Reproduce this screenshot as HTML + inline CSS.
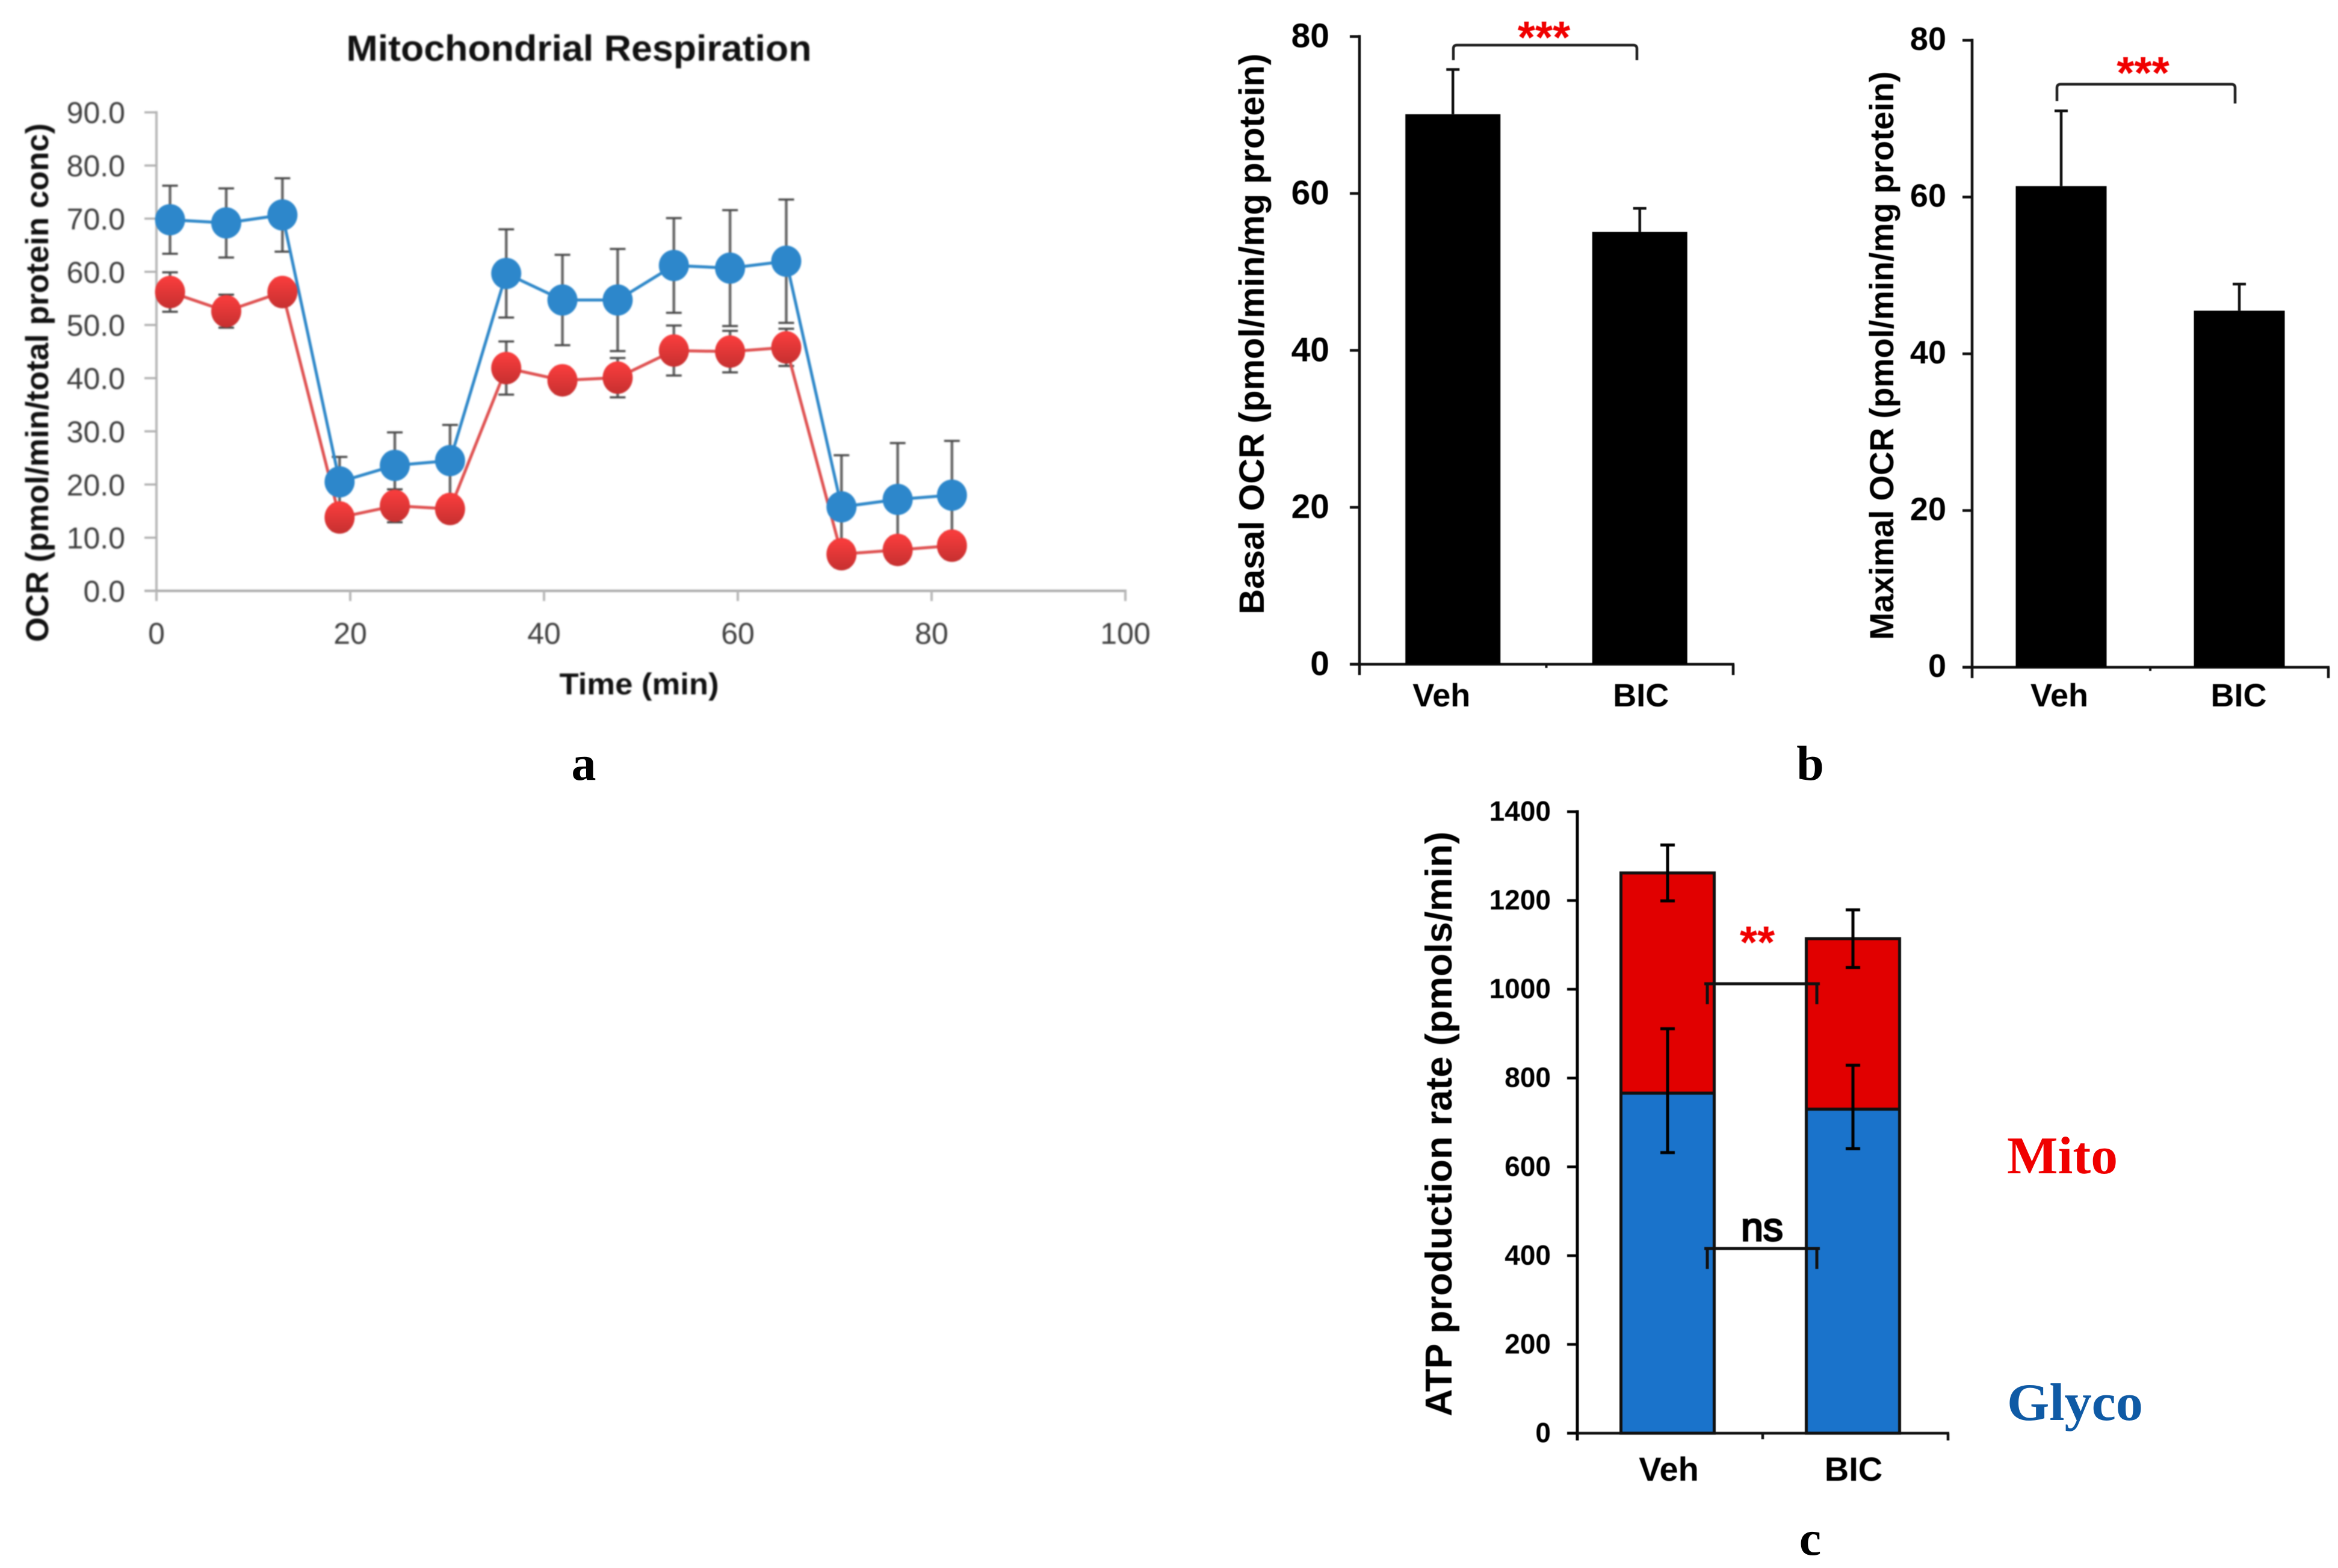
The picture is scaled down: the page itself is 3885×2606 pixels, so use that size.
<!DOCTYPE html>
<html lang="en">
<head>
<meta charset="utf-8">
<title>Mitochondrial respiration, OCR and ATP production charts</title>
<style>
html,body{margin:0;padding:0;background:#fff;}
svg{display:block;}
text{font-family:"Liberation Sans",sans-serif;}
.serif{font-family:"Liberation Serif",serif;font-weight:bold;}
.a-tick{font-size:50px;fill:#3f3f3f;}
.b{font-weight:bold;fill:#000;}
</style>
</head>
<body>
<svg id="fig" xmlns="http://www.w3.org/2000/svg" width="3885" height="2606" viewBox="0 0 3885 2606">
  <defs>
    <linearGradient id="redGrad" x1="0" y1="0" x2="0" y2="1">
      <stop offset="0.1" stop-color="#f63c3c"/>
      <stop offset="1" stop-color="#c63030"/>
    </linearGradient>
  </defs>
  <rect x="0" y="0" width="3885" height="2606" fill="#fff"/>

  <g id="panelA" style="filter:blur(1.2px)">
    <text x="962" y="101" text-anchor="middle" font-size="60" font-weight="bold" fill="#111" textLength="773" lengthAdjust="spacingAndGlyphs">Mitochondrial Respiration</text>
    <text transform="translate(80 636) rotate(-90)" text-anchor="middle" font-size="53" font-weight="bold" fill="#111" textLength="862" lengthAdjust="spacingAndGlyphs">OCR (pmol/min/total protein conc)</text>
    <text x="1062" y="1154" text-anchor="middle" font-size="50" font-weight="bold" fill="#111" textLength="265" lengthAdjust="spacingAndGlyphs">Time (min)</text>
  </g>
  <text class="serif" x="970" y="1296" text-anchor="middle" font-size="82">a</text>

  <g id="panelB1" style="filter:blur(.6px)">
    <text class="b" transform="translate(2100 555) rotate(-90)" text-anchor="middle" font-size="58" textLength="932" lengthAdjust="spacingAndGlyphs">Basal OCR (pmol/min/mg protein)</text>
  </g>
  <g id="panelB2" style="filter:blur(.6px)">
    <text class="b" transform="translate(3146 591) rotate(-90)" text-anchor="middle" font-size="56" textLength="945" lengthAdjust="spacingAndGlyphs">Maximal OCR (pmol/min/mg protein)</text>
  </g>
  <text class="serif" x="3008" y="1296" text-anchor="middle" font-size="82">b</text>

  <g id="panelC" style="filter:blur(.5px)">
    <text class="b" transform="translate(2412 1868) rotate(-90)" text-anchor="middle" font-size="62" textLength="972" lengthAdjust="spacingAndGlyphs">ATP production rate (pmols/min)</text>
  </g>
  <text class="serif" x="3335" y="1950" font-size="88" fill="#f00000" textLength="184" lengthAdjust="spacingAndGlyphs">Mito</text>
  <text class="serif" x="3335" y="2360" font-size="88" fill="#0f5aa5" textLength="226" lengthAdjust="spacingAndGlyphs">Glyco</text>
  <text class="serif" x="3008" y="2584" text-anchor="middle" font-size="82">c</text>
</svg>

<script>
// ---- Panel a data ----
const timeMinutes = [1.4, 7.2, 13.0, 18.9, 24.6, 30.3, 36.1, 41.9, 47.6, 53.4, 59.2, 65.0, 70.7, 76.5, 82.1];
const blueOcr = [69.8, 69.2, 70.7, 20.5, 23.6, 24.5, 59.7, 54.7, 54.7, 61.2, 60.7, 62.0, 15.8, 17.2, 18.0];
const blueErr = [6.4, 6.5, 6.9, 4.7, 6.2, 6.7, 8.3, 8.5, 9.6, 8.9, 10.9, 11.6, 9.7, 10.6, 10.2];
const redOcr = [56.2, 52.6, 56.2, 13.8, 16.0, 15.4, 41.9, 39.6, 40.1, 45.2, 45.0, 45.8, 6.9, 7.7, 8.5];
const redErr = [3.7, 3.1, 2.5, 2.5, 3.1, 2.5, 5.0, 2.5, 3.7, 4.7, 3.9, 3.5, 2.5, 2.5, 2.5];
const aYTicks = [0, 10, 20, 30, 40, 50, 60, 70, 80, 90];
const aXTicks = [0, 20, 40, 60, 80, 100];

// ---- Panel b data ----
const barCategories = ['Veh', 'BIC'];
const basalValues = [70.1, 55.1];
const basalErr = [5.7, 3.0];
const maximalValues = [61.4, 45.5];
const maximalErr = [9.6, 3.4];
const bYTicks = [0, 20, 40, 60, 80];

// ---- Panel c data ----
const glycoValues = [766, 730];
const glycoErrUp = [145, 99];
const glycoErrDown = [134, 89];
const totalValues = [1262, 1114];
const totalErrUp = [63, 65];
const totalErrDown = [63, 65];
const cYTicks = [0, 200, 400, 600, 800, 1000, 1200, 1400];

const NS = 'http://www.w3.org/2000/svg';
function mk(parent, tag, attrs, txt) {
  const n = document.createElementNS(NS, tag);
  for (const k in attrs) n.setAttribute(k, attrs[k]);
  if (txt !== undefined) n.textContent = txt;
  parent.appendChild(n);
  return n;
}
function ln(parent, x1, y1, x2, y2, stroke, w) {
  return mk(parent, 'line', {x1: x1, y1: y1, x2: x2, y2: y2, stroke: stroke, 'stroke-width': w});
}

// ================= Panel a =================
const ax = v => 260 + (v / 100) * 1610;
const ay = v => 982 - (v / 90) * 795.3;
const pa = document.getElementById('panelA');

const aAxes = mk(pa, 'g', {});


const aYLine = ln(aAxes, ax(0), ay(90) - 2, ax(0), 999, '#b8b8b8', 4);


const aXLine = ln(aAxes, 240, ay(0), ax(100) + 2, ay(0), '#ababab', 4);


aYTicks.forEach(v => {
  const t = ln(aAxes, 240, ay(v), ax(0), ay(v), '#b0b0b0', 3.5);
  
  
  const l = mk(aAxes, 'text', {x: 208, y: ay(v) + 18, 'text-anchor': 'end', class: 'a-tick'}, v.toFixed(1));
  
  
});
aXTicks.forEach(v => {
  const t = ln(aAxes, ax(v), ay(0), ax(v), 999, '#b8b8b8', 4);
  
  
  const l = mk(aAxes, 'text', {x: ax(v), y: 1070, 'text-anchor': 'middle', class: 'a-tick'}, String(v));
  
  
});

function drawErrs(values, errs, seriesName) {
  const g = mk(pa, 'g', {});
  
  
  values.forEach((v, i) => {
    const x = ax(timeMinutes[i]);
    const hi = ay(v + errs[i]);
    const lo = ay(v - errs[i]);
    const b = mk(g, 'g', {});
    
    
    ln(b, x, hi, x, lo, '#666', 4.5);
    ln(b, x - 13, hi, x + 13, hi, '#4a4a4a', 3.5);
    ln(b, x - 13, lo, x + 13, lo, '#4a4a4a', 3.5);
  });
}
function drawLine(values, color, seriesName) {
  const pts = values.map((v, i) => ax(timeMinutes[i]).toFixed(1) + ',' + ay(v).toFixed(1)).join(' ');
  const p = mk(pa, 'polyline', {points: pts, fill: 'none', stroke: color, 'stroke-width': 5});
  
  
}
function drawDots(values, fill, ry, seriesName) {
  const g = mk(pa, 'g', {});
  
  
  values.forEach((v, i) => {
    const c = mk(g, 'ellipse', {cx: ax(timeMinutes[i]), cy: ay(v), rx: 25, ry: ry, fill: fill});
    
    
  });
}
drawErrs(blueOcr, blueErr, 'vehicle');
drawErrs(redOcr, redErr, 'bic');
drawLine(blueOcr, '#2f88c9', 'vehicle');
drawLine(redOcr, '#df5252', 'bic');
drawDots(blueOcr, '#2d87cb', 26, 'vehicle');
drawDots(redOcr, 'url(#redGrad)', 27, 'bic');

// ================= Panel b =================
function barPanel(root, cfg, values, errs) {
  const y = v => cfg.y0 - (v / 80) * (cfg.y0 - cfg.y80);
  const x = i => cfg.x0 + cfg.w * (i + 0.5) / barCategories.length;
  const g = mk(root, 'g', {});
  
  
  const yl = ln(g, cfg.x0, cfg.y80 - 2.5, cfg.x0, cfg.y0 + 18, '#111', 4.5);
  
  
  const xl = ln(g, cfg.x0 - 16, cfg.y0, cfg.x0 + cfg.w + 2, cfg.y0, '#111', 4.5);
  
  
  const xe = ln(g, cfg.x0 + cfg.w, cfg.y0, cfg.x0 + cfg.w, cfg.y0 + 18, '#111', 4.5);
  
  
  const xm = ln(g, cfg.x0 + cfg.w / 2, cfg.y0, cfg.x0 + cfg.w / 2, cfg.y0 + 6, '#111', 4);
  
  
  bYTicks.forEach(v => {
    const t = ln(g, cfg.x0 - 16, y(v), cfg.x0, y(v), '#111', 4.5);
    
    
    const l = mk(g, 'text', {x: cfg.labelRight, y: y(v) + cfg.labelDy, 'text-anchor': 'end', class: 'b', 'font-size': cfg.labelSize}, String(v));
    
    
  });
  values.forEach((v, i) => {
    const r = mk(root, 'rect', {x: x(i) - cfg.bw / 2, y: y(v), width: cfg.bw, height: cfg.y0 - y(v), fill: '#000'});
    
    
    const e = mk(root, 'g', {});
    
    
    ln(e, x(i), y(v), x(i), y(v + errs[i]), '#111', 4.5);
    ln(e, x(i) - 11, y(v + errs[i]), x(i) + 11, y(v + errs[i]), '#111', 4.5);
    const c = mk(root, 'text', {x: x(i) + cfg.catDx[i], y: cfg.y0 + cfg.catDy, 'text-anchor': 'middle', class: 'b', 'font-size': 54}, barCategories[i]);
    
    
  });
  const br = mk(root, 'path', {
    d: 'M' + cfg.br[0] + ' ' + cfg.br[3] + ' V' + (cfg.br[2] + 6) + ' Q' + cfg.br[0] + ' ' + cfg.br[2] + ' ' + (cfg.br[0] + 6) + ' ' + cfg.br[2] +
       ' H' + (cfg.br[1] - 6) + ' Q' + cfg.br[1] + ' ' + cfg.br[2] + ' ' + cfg.br[1] + ' ' + (cfg.br[2] + 6) + ' V' + cfg.br[4],
    fill: 'none', stroke: '#222', 'stroke-width': 4.5
  });
  
  
  const st = mk(root, 'text', {x: (cfg.br[0] + cfg.br[1]) / 2 + cfg.starDx, y: cfg.starY, 'text-anchor': 'middle', 'font-size': 75, 'font-weight': 'bold', fill: '#f00000'}, '***');
  
  
}
barPanel(document.getElementById('panelB1'),
  {x0: 2259, w: 621, y0: 1104, y80: 60.7, bw: 158, labelRight: 2209, labelDy: 18, labelSize: 57, catDx: [-19, 2], catDy: 70, br: [2415, 2720, 75, 100, 100], starDx: -2, starY: 88},
  basalValues, basalErr);
barPanel(document.getElementById('panelB2'),
  {x0: 3277, w: 592, y0: 1109, y80: 67, bw: 151, labelRight: 3234, labelDy: 16, labelSize: 54, catDx: [-3, -1], catDy: 65, br: [3418, 3714, 140, 168, 172], starDx: -5, starY: 147},
  maximalValues, maximalErr);

// ================= Panel c =================
const pc = document.getElementById('panelC');
const cx = i => 2617 + 616 * (i + 0.5) / barCategories.length;
const cy = v => 2382 - (v / 1400) * 1033;
const cAxes = mk(pc, 'g', {});


const cYLine = ln(cAxes, 2621, cy(1400) - 2.5, 2621, 2394, '#000', 5);


const cXLine = ln(cAxes, 2604, 2382, 3239, 2382, '#111', 4.5);


const cXEnd = ln(cAxes, 3237, 2382, 3237, 2394, '#111', 4.5);


const cXMid = ln(cAxes, 2929, 2382, 2929, 2392, '#111', 4.5);


cYTicks.forEach(v => {
  const t = ln(cAxes, 2604, cy(v), 2621, cy(v), '#000', 4.5);
  
  
  const l = mk(cAxes, 'text', {x: 2577, y: cy(v) + 15, 'text-anchor': 'end', class: 'b', 'font-size': 46}, String(v));
  
  
});
barCategories.forEach((name, i) => {
  const key = name.toLowerCase();
  const bw = 155;
  const blue = mk(pc, 'rect', {x: cx(i) - bw / 2, y: cy(glycoValues[i]), width: bw, height: 2382 - cy(glycoValues[i]), fill: '#1a73cb', stroke: '#111', 'stroke-width': 5});
  
  
  const red = mk(pc, 'rect', {x: cx(i) - bw / 2, y: cy(totalValues[i]), width: bw, height: cy(glycoValues[i]) - cy(totalValues[i]), fill: '#e10000', stroke: '#111', 'stroke-width': 5});
  
  
  [[glycoValues[i], glycoErrUp[i], glycoErrDown[i], 'glyco'], [totalValues[i], totalErrUp[i], totalErrDown[i], 'mito']].forEach(row => {
    const e = mk(pc, 'g', {});
    
    
    const hi = cy(row[0] + row[1]);
    const lo = cy(row[0] - row[2]);
    ln(e, cx(i), hi, cx(i), lo, '#000', 5);
    ln(e, cx(i) - 12, hi, cx(i) + 12, hi, '#000', 5);
    ln(e, cx(i) - 12, lo, cx(i) + 12, lo, '#000', 5);
  });
  const c = mk(pc, 'text', {x: cx(i) + (i ? 1 : 2), y: 2461, 'text-anchor': 'middle', class: 'b', 'font-size': 56}, name);
  
  
});
function cBracket(yTop, name) {
  const p = mk(pc, 'path', {d: 'M2837 ' + (yTop + 34) + ' V' + yTop + ' H3019 V' + (yTop + 34) + ' M2832 ' + yTop + ' H3024', fill: 'none', stroke: '#111', 'stroke-width': 5});
  
  
}
cBracket(1635, 'mito-significance-bracket');
cBracket(2075, 'glyco-significance-bracket');
const starsC = mk(pc, 'text', {x: 2920, y: 1592, 'text-anchor': 'middle', 'font-size': 75, 'font-weight': 'bold', fill: '#f00000'}, '**');


const nsC = mk(pc, 'text', {x: 2928, y: 2062, 'text-anchor': 'middle', 'font-size': 66, fill: '#000', stroke: '#000', 'stroke-width': 3}, 'ns');


</script>
</body>
</html>
